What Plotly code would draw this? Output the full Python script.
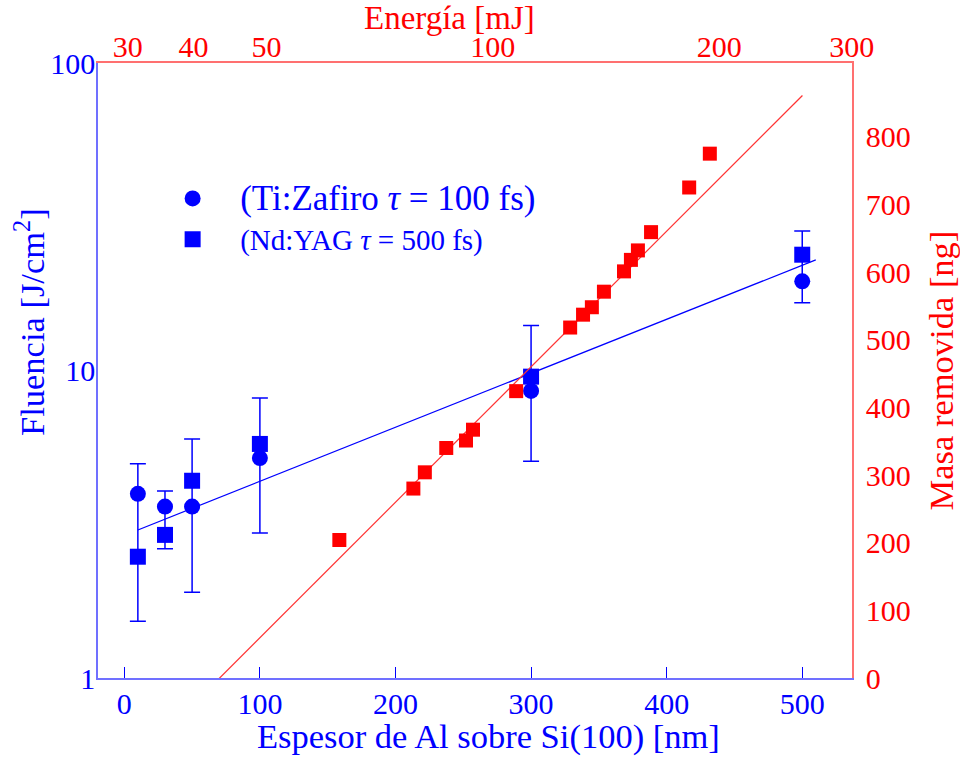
import plotly.graph_objects as go

# ---- data ----
thickness_nm = [10, 30, 50, 100, 300, 500]
fluence_tizafiro = [3.97, 3.61, 3.61, 5.19, 8.58, 19.5]
fluence_ndyag = [2.48, 2.92, 4.38, 5.77, 9.55, 23.8]
err_top = [4.97, 4.06, 5.99, 8.14, 14.0, 28.4]
err_bottom = [1.53, 2.63, 1.90, 2.96, 5.07, 16.6]

fit_blue_x = [10, 510]
fit_blue_y = [3.03, 22.9]

energy_mj = [62.5, 78.4, 81.2, 86.7, 92.1, 94.1, 107.4, 126.7, 131.8, 135.4,
             140.5, 149.4, 152.6, 155.9, 162.3, 182.4, 194.3]
mass_ng = [204, 280, 304, 340, 351, 367, 424, 518, 537, 548,
           571, 601, 618, 632, 659, 725, 775]
fit_red_x = [42.7, 258]
fit_red_y = [-7, 861]

x_ticks = [0, 100, 200, 300, 400, 500]
y_ticks = [1, 10, 100]
y2_ticks = [0, 100, 200, 300, 400, 500, 600, 700, 800]
e_tick_vals = [32.7, 40, 50, 100, 200, 300]
e_tick_text = ["30", "40", "50", "100", "200", "300"]

BLUE = "#0000ff"
RED = "#ff0000"
FONT = "Liberation Serif"
TICK = 30
TITLE = 34.5

plus = [t - c for t, c in zip(err_top, fluence_tizafiro)]
minus = [c - b for c, b in zip(fluence_tizafiro, err_bottom)]

fig = go.Figure()
fig.add_trace(go.Scatter(x=fit_blue_x, y=fit_blue_y, mode="lines",
                         line=dict(color=BLUE, width=1.2), showlegend=False))
fig.add_trace(go.Scatter(x=thickness_nm, y=fluence_tizafiro, mode="markers",
                         name="<span style='font-size:35px'>(Ti:Zafiro <i>τ</i> = 100 fs)</span>",
                         marker=dict(symbol="circle", size=16, color=BLUE),
                         error_y=dict(type="data", symmetric=False, array=plus,
                                      arrayminus=minus, color=BLUE, thickness=1.5, width=8)))
fig.add_trace(go.Scatter(x=thickness_nm, y=fluence_ndyag, mode="markers",
                         name="(Nd:YAG <i>τ</i> = 500 fs)",
                         marker=dict(symbol="square", size=16, color=BLUE)))
fig.add_trace(go.Scatter(x=fit_red_x, y=fit_red_y, mode="lines", xaxis="x2", yaxis="y2",
                         line=dict(color="#ff3333", width=1.2), showlegend=False))
fig.add_trace(go.Scatter(x=energy_mj, y=mass_ng, mode="markers", xaxis="x2", yaxis="y2",
                         marker=dict(symbol="square", size=14, color=RED), showlegend=False))

fig.update_layout(
    width=960, height=759,
    margin=dict(l=98, r=108, t=63, b=81),
    plot_bgcolor="white", paper_bgcolor="white",
    font=dict(family=FONT, size=TICK, color=BLUE),
    xaxis=dict(range=[-19.4, 536.7], tickvals=x_ticks, ticks="inside", ticklen=11,
               tickcolor=BLUE, tickwidth=1, showline=True, linecolor="#7070ff", linewidth=1.5,
               showgrid=False, zeroline=False, tickfont=dict(color=BLUE, size=TICK),
               ticklabelstandoff=-2, automargin=False),
    yaxis=dict(type="log", range=[0, 2], tickvals=y_ticks, ticktext=["1", "10", "100"],
               ticks="", showline=True, linecolor="#7070ff", linewidth=1.5,
               showgrid=False, zeroline=False, tickfont=dict(color=BLUE, size=TICK),
               ticklabelstandoff=-5, automargin=False),
    xaxis2=dict(type="log", overlaying="x", side="top", anchor="y",
                range=[1.475, 2.4775], tickvals=e_tick_vals, ticktext=e_tick_text,
                ticks="", showline=True, linecolor="#ff7070", linewidth=1.5,
                showgrid=False, zeroline=False, tickfont=dict(color=RED, size=TICK),
                ticklabelstandoff=-8, automargin=False),
    yaxis2=dict(overlaying="y", side="right", anchor="x", range=[0, 909],
                tickvals=y2_ticks, ticks="", showline=True, linecolor="#ff7070", linewidth=1.5,
                showgrid=False, zeroline=False, tickfont=dict(color=RED, size=TICK),
                ticklabelstandoff=6, automargin=False,
                title=dict(text="Masa removida [ng]", font=dict(color=RED, size=TITLE), standoff=19)),
    legend=dict(x=0.0625, y=0.821, xanchor="left", yanchor="top", bgcolor="rgba(0,0,0,0)",
                itemwidth=85, font=dict(color=BLUE, size=29, family=FONT)),
    annotations=[
        dict(text="Energía [mJ]", xref="paper", yref="paper", x=0.4668, y=1.0735,
             xanchor="center", yanchor="middle", showarrow=False,
             font=dict(color=RED, size=33, family=FONT)),
        dict(text="Espesor de Al sobre Si(100) [nm]", xref="paper", yref="paper",
             x=0.5179, y=-0.0945, xanchor="center", yanchor="middle", showarrow=False,
             font=dict(color=BLUE, size=TITLE, family=FONT)),
        dict(text="Fluencia [J/cm<sup>2</sup>]", xref="paper", yref="paper",
             x=-0.0902, y=0.5789, xanchor="center", yanchor="middle", showarrow=False,
             textangle=-90, font=dict(color=BLUE, size=TITLE, family=FONT)),
    ],
)

fig.write_html("out.html", config={"displayModeBar": False},
               post_script="document.body.style.margin='0px';")
